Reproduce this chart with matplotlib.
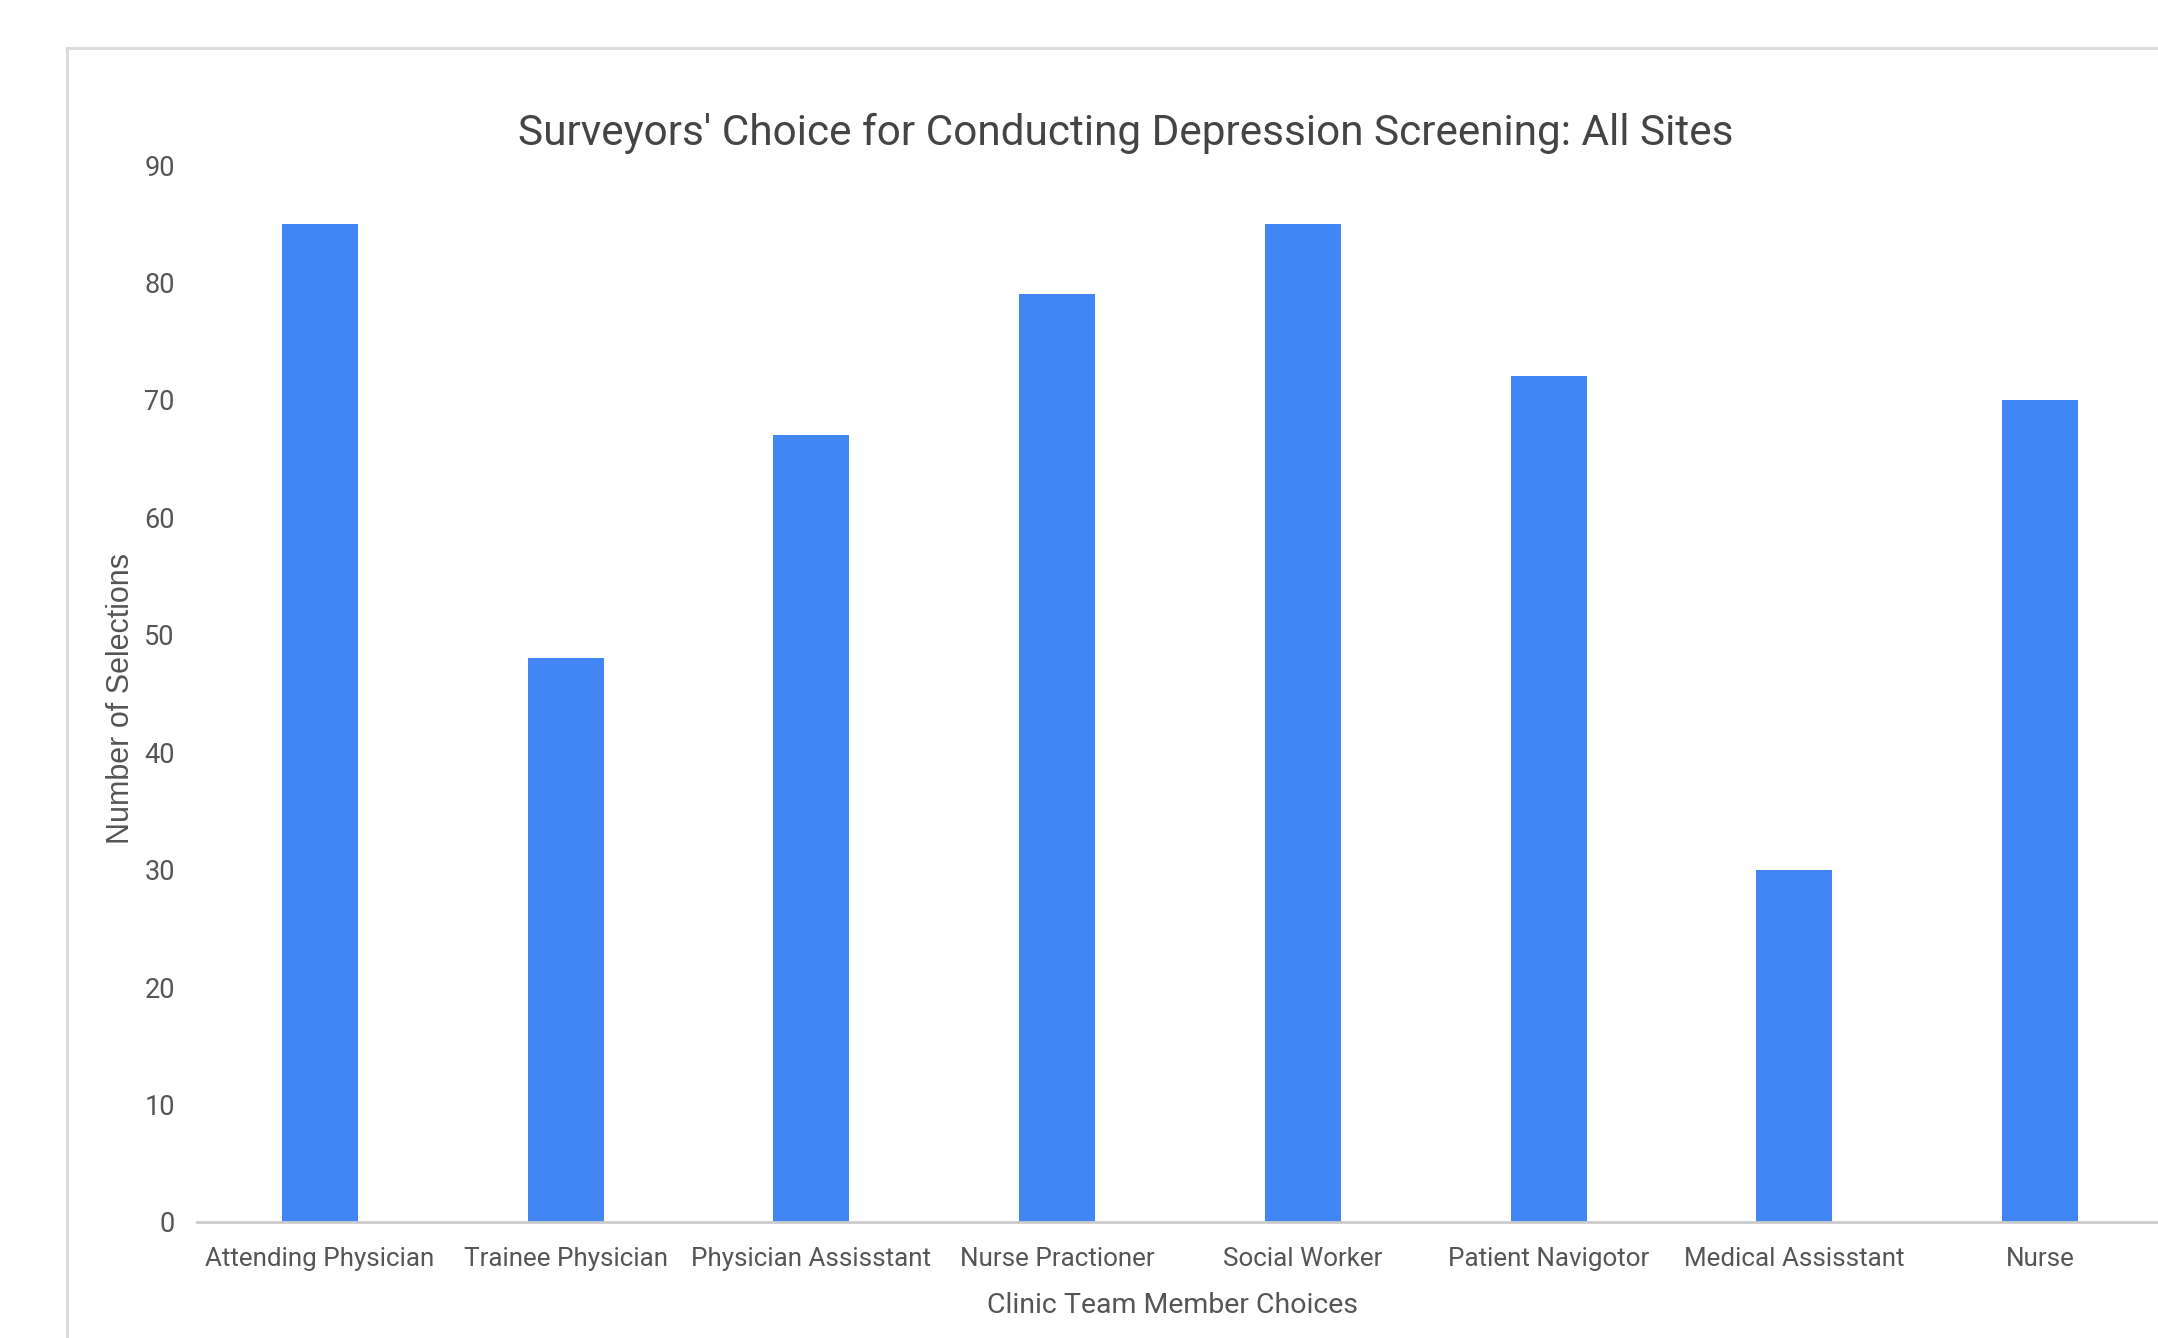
import matplotlib
matplotlib.use('Agg')
from matplotlib import pyplot as plt
from matplotlib.lines import Line2D
import numpy as np

categories = ['Attending Physician', 'Trainee Physician', 'Physician Assisstant',
              'Nurse Practioner', 'Social Worker', 'Patient Navigotor',
              'Medical Assisstant', 'Nurse']
selections = [85, 48, 67, 79, 85, 72, 30, 70]
yticks = [0, 10, 20, 30, 40, 50, 60, 70, 80, 90]

narrow = ['Roboto', 'DejaVu Sans']
text_col = '#555555'

fig = plt.figure(figsize=(21.58, 13.38), dpi=100)
fig.patch.set_facecolor('white')

# card border (cropped at right and bottom)
fig.add_artist(Line2D([67 / 2158, 67 / 2158], [0, 1 - 48 / 1338],
                      color='#d9d9d9', lw=2, transform=fig.transFigure))
fig.add_artist(Line2D([67 / 2158, 1], [1 - 48 / 1338, 1 - 48 / 1338],
                      color='#d9d9d9', lw=2, transform=fig.transFigure))

ax = fig.add_axes([197 / 2158, 1 - 1222 / 1338, (2163 - 197) / 2158, (1222 - 165) / 1338])
x = np.arange(len(categories))
ax.bar(x, selections, width=0.31, color='#4285f4')

ax.set_xlim(-0.5, len(categories) - 0.5)
ax.set_ylim(0, 90)
ax.set_yticks(yticks)
ax.set_xticks(x)
ax.set_xticklabels(categories, family=narrow, fontsize=18.7, color=text_col)
ax.set_yticklabels([str(t) for t in yticks], family=narrow, fontsize=19.5, color=text_col)
ax.tick_params(axis='both', length=0)
ax.tick_params(axis='y', pad=16)
ax.tick_params(axis='x', pad=18)

for side in ['top', 'right', 'left']:
    ax.spines[side].set_visible(False)
ax.spines['bottom'].set_color('#cccccc')
ax.spines['bottom'].set_linewidth(2)

ax.set_xlabel('Clinic Team Member Choices', family=narrow, fontsize=20.5,
              color=text_col)
ax.xaxis.set_label_coords(0.496, -0.066)
fig.text(121 / 2158, 1 - 699 / 1338, 'Number of Selections', rotation=90,
         ha='center', va='center', fontsize=22, color=text_col,
         family=['Liberation Sans', 'DejaVu Sans'])
fig.text(1126 / 2158, 1 - 133 / 1338,
         "Surveyors' Choice for Conducting Depression Screening: All Sites",
         ha='center', va='center', fontsize=30.4, color='#444444', family=narrow)

fig.savefig('out.png', dpi=100)
